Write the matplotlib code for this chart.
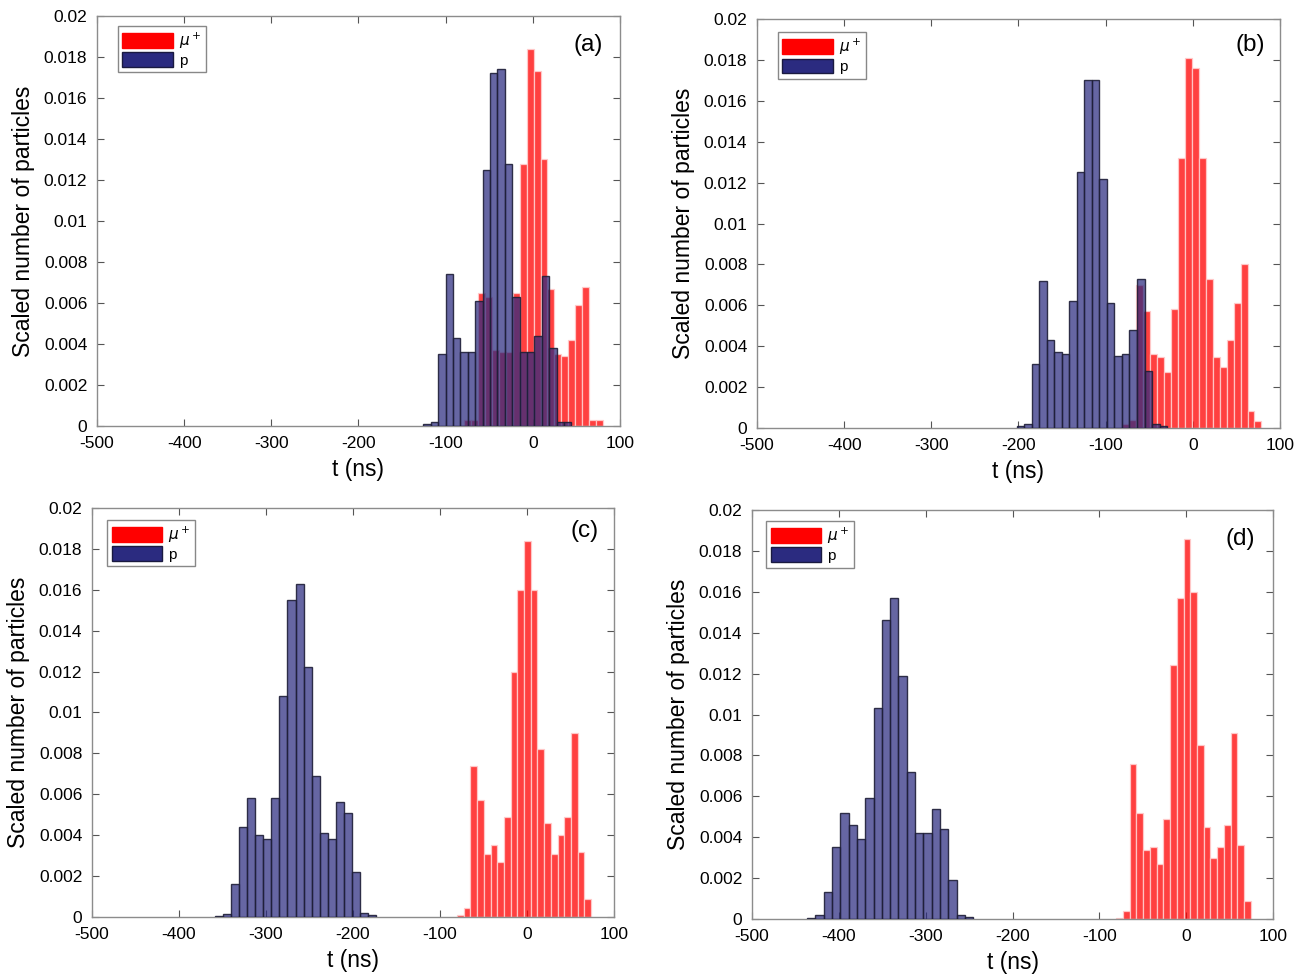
import matplotlib
matplotlib.use("Agg")
import matplotlib.pyplot as plt
import numpy as np
from matplotlib.patches import Patch

plt.rcParams['font.family'] = ['Liberation Sans', 'DejaVu Sans']
plt.rcParams['axes.unicode_minus'] = False

# histogram ranges (ns) and scaled counts
# panel (a)
mu_a_range = (-79.2, 80.9)
mu_a = [0.0003, 0.0003, 0.0065, 0.0063, 0.0037, 0.0036, 0.0036, 0.0065, 0.0128, 0.0184,
        0.0173, 0.0130, 0.0067, 0.0035, 0.0034, 0.0042, 0.0059, 0.0068, 0.0003, 0.0003]
p_a_range = (-125.6, 44.4)
p_a = [0.0001, 0.0002, 0.0035, 0.0074, 0.0043, 0.0036, 0.0036, 0.0061, 0.0125, 0.0172,
       0.0174, 0.0128, 0.0063, 0.0036, 0.0036, 0.0044, 0.0073, 0.0038, 0.0002, 0.0002]

# panel (b)
mu_b_range = (-81.1, 78.8)
mu_b = [0.0002, 0.0004, 0.0070, 0.0057, 0.0036, 0.00345, 0.00275, 0.0058, 0.0132, 0.0181,
        0.0176, 0.0132, 0.0073, 0.00345, 0.0030, 0.0043, 0.0061, 0.0080, 0.00085, 0.00034]
p_b_range = (-202.0, -29.5)
p_b = [0.0001, 0.0002, 0.00315, 0.0072, 0.0043, 0.0037, 0.0036, 0.0062, 0.0125, 0.0170,
       0.0170, 0.0122, 0.0061, 0.0035, 0.0036, 0.0048, 0.0073, 0.0028, 0.0002, 0.0001]

# panel (c)
mu_c_range = (-80.5, 73.6)
mu_c = [0.0001, 0.00046, 0.0074, 0.0057, 0.0031, 0.0035, 0.0027, 0.0049, 0.0120, 0.0160,
        0.0184, 0.0160, 0.0082, 0.0046, 0.0031, 0.0040, 0.0049, 0.0090, 0.0032, 0.00086]
p_c_range = (-358.6, -173.6)
p_c = [0.00005, 0.00016, 0.0016, 0.0044, 0.0058, 0.0040, 0.0038, 0.0058, 0.0108, 0.0155,
       0.0163, 0.0122, 0.0069, 0.0041, 0.0038, 0.0056, 0.0051, 0.0022, 0.0002, 0.0001]

# panel (d)
mu_d_range = (-80.6, 74.5)
mu_d = [0.00005, 0.00037, 0.0076, 0.0052, 0.0034, 0.0035, 0.0027, 0.0049, 0.0124, 0.0157,
        0.0186, 0.0160, 0.0085, 0.0045, 0.0030, 0.0035, 0.0046, 0.0091, 0.0036, 0.0009]
p_d_range = (-436.8, -245.0)
p_d = [0.00005, 0.0002, 0.0013, 0.0035, 0.0052, 0.0046, 0.0039, 0.0059, 0.0103, 0.0146,
       0.0157, 0.0119, 0.0072, 0.0042, 0.0042, 0.0054, 0.0044, 0.0019, 0.0002, 0.0001]

panel_names = ['(a)', '(b)', '(c)', '(d)']
xticks = [-500, -400, -300, -200, -100, 0, 100]
yticks = [0, 0.002, 0.004, 0.006, 0.008, 0.01, 0.012, 0.014, 0.016, 0.018, 0.02]

panels = [
    (mu_a_range, mu_a, p_a_range, p_a),
    (mu_b_range, mu_b, p_b_range, p_b),
    (mu_c_range, mu_c, p_c_range, p_c),
    (mu_d_range, mu_d, p_d_range, p_d),
]

# axes boxes in figure fractions
boxes = [
    [0.0741, 0.5631, 0.3995, 0.4205],
    [0.5783, 0.5610, 0.3995, 0.4195],
    [0.0703, 0.0595, 0.3988, 0.4195],
    [0.5745, 0.0574, 0.3980, 0.4195],
]
label_pos = [(0.939, 0.929), (0.943, 0.936), (0.943, 0.944), (0.937, 0.930)]
legend_pos = [(0.040, 0.976), (0.040, 0.968), (0.029, 0.971), (0.027, 0.973)]

red_face = (1.0, 0.0, 0.0, 0.75)
red_edge = (1.0, 0.8, 0.8, 0.9)
blue_face = (0.17, 0.17, 0.50, 0.72)
blue_edge = (0.12, 0.12, 0.22, 0.9)
spine_col = '#8c8c8c'

fig = plt.figure(figsize=(13.09, 9.75), dpi=100)

for i, (mr, mh, pr, ph) in enumerate(panels):
    ax = fig.add_axes(boxes[i])
    me = np.linspace(mr[0], mr[1], len(mh) + 1)
    pe = np.linspace(pr[0], pr[1], len(ph) + 1)
    ax.bar(me[:-1], mh, width=np.diff(me), align='edge',
           facecolor=red_face, edgecolor=red_edge, linewidth=0.9, zorder=2)
    ax.bar(pe[:-1], ph, width=np.diff(pe), align='edge',
           facecolor=blue_face, edgecolor=blue_edge, linewidth=1.0, zorder=3)

    ax.set_xlim(-500, 100)
    ax.set_ylim(0, 0.02)
    ax.set_xticks(xticks)
    ax.set_xticklabels([str(v) for v in xticks])
    ax.set_yticks(yticks)
    ax.set_yticklabels(['%g' % v for v in yticks])
    ax.tick_params(direction='in', length=5, width=0.8, color='#555555',
                   top=True, right=True, labelsize=12.5, pad=7)
    for s in ax.spines.values():
        s.set_color(spine_col)
        s.set_linewidth(1.0)

    ax.set_xlabel('t (ns)', fontsize=16.5, labelpad=5)
    ax.set_ylabel('Scaled number of particles', fontsize=16.5, labelpad=6)

    ax.text(label_pos[i][0], label_pos[i][1], panel_names[i], transform=ax.transAxes,
            ha='center', va='center', fontsize=17.5)

    handles = [Patch(facecolor='#ff0000', edgecolor='#ff0000', label=r'$\mu^+$'),
               Patch(facecolor='#2b2b80', edgecolor='#1a1a40', label='p')]
    leg = ax.legend(handles=handles, loc='upper left', bbox_to_anchor=legend_pos[i],
                    borderaxespad=0, fontsize=11, handlelength=3.3, handleheight=1.1,
                    handletextpad=0.4, labelspacing=0.1, borderpad=0.3,
                    fancybox=False, framealpha=1)
    leg.get_frame().set_edgecolor('#888888')
    leg.get_frame().set_linewidth(1.0)

fig.savefig('out.png', dpi=100)
